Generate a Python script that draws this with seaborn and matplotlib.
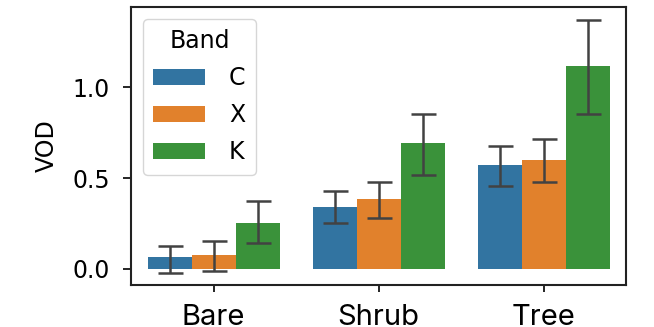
import matplotlib
matplotlib.use("Agg")
import matplotlib.pyplot as plt
import seaborn as sns
import pandas as pd

# Data
categories = ["Bare", "Shrub", "Tree"]
bands = ["C", "X", "K"]
vod_C = [0.064, 0.342, 0.570]
vod_X = [0.077, 0.383, 0.601]
vod_K = [0.254, 0.690, 1.114]
lo_C = [-0.020, 0.251, 0.458]
hi_C = [0.128, 0.429, 0.676]
lo_X = [-0.010, 0.279, 0.478]
hi_X = [0.156, 0.478, 0.716]
lo_K = [0.141, 0.516, 0.853]
hi_K = [0.372, 0.853, 1.367]
yticks = [0.0, 0.5, 1.0]

means = {"C": vod_C, "X": vod_X, "K": vod_K}
lows = {"C": lo_C, "X": lo_X, "K": lo_K}
highs = {"C": hi_C, "X": hi_X, "K": hi_K}

rows = []
for b in bands:
    for c, v in zip(categories, means[b]):
        rows.append({"Cover": c, "Band": b, "VOD": v})
df = pd.DataFrame(rows)

fig = plt.figure(figsize=(6.54, 3.27), dpi=100)
ax = fig.add_axes([131/654, 1-285/327, (626-131)/654, (285-7)/327])

sns.barplot(data=df, x="Cover", y="VOD", hue="Band", order=categories,
            hue_order=bands, errorbar=None, ax=ax)

for cont, b in zip(ax.containers, bands):
    xs = [p.get_x() + p.get_width()/2 for p in cont.patches]
    m = means[b]
    yerr = [[mi - l for mi, l in zip(m, lows[b])], [h - mi for mi, h in zip(m, highs[b])]]
    ax.errorbar(xs, m, yerr=yerr, fmt="none", ecolor="#424242",
                elinewidth=1.8, capsize=9, capthick=1.8, zorder=3)

ax.set_ylim(-0.088, 1.44)
ax.set_xlim(-0.5, 2.5)
ax.set_yticks(yticks)
ax.set_yticklabels([f"{t:.1f}" for t in yticks], fontsize=17)
ax.set_xlabel("")
ax.set_ylabel("VOD", fontsize=17, labelpad=10)
ax.tick_params(axis="y", length=6, width=1.2, pad=9)
ax.tick_params(axis="x", length=5, width=1.2, pad=9)
for lab in ax.get_xticklabels():
    lab.set_fontsize(21)
    lab.set_family(["Inter", "DejaVu Sans"])
for s in ax.spines.values():
    s.set_linewidth(1.5)
    s.set_color("#222222")

leg = ax.legend(title="Band", loc="upper left", fontsize=17, title_fontsize=17,
                handlelength=2.2, handleheight=0.7, labelspacing=0.55,
                borderaxespad=0.5, handletextpad=1.0, borderpad=0.45)

fig.savefig("out.png", dpi=100)
